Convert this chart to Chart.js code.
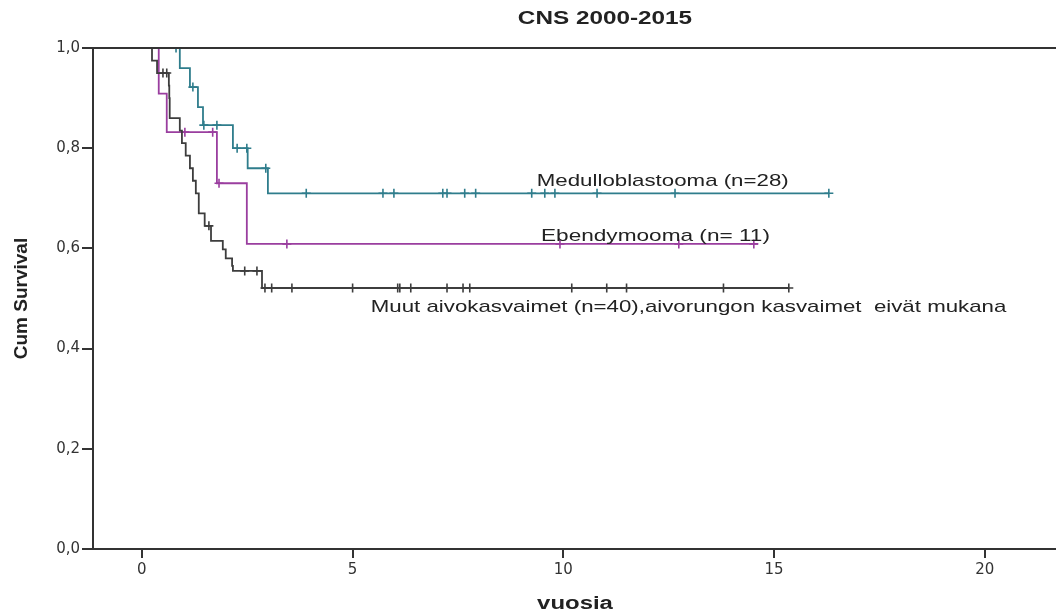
<!DOCTYPE html>
<html>
<head>
<meta charset="utf-8">
<title>CNS 2000-2015</title>
<script src="https://cdn.jsdelivr.net/npm/chart.js@4"></script>
<style>
  html, body { margin: 0; padding: 0; background: #fff; }
  #wrap { width: 1056px; height: 616px; }
</style>
</head>
<body>
<div id="wrap"><canvas id="kmChart"></canvas></div>
<script>
// ---------- Data (years, cumulative survival) ----------
const xTicks = [0, 5, 10, 15, 20];

const medulloTimes = [0, 0.90, 1.14, 1.33, 1.45, 2.16, 2.51, 2.99, 16.3];
const medulloSurv = [1, 0.96, 0.922, 0.882, 0.846, 0.80, 0.76, 0.71, 0.71];
const medulloCensored = [0.81, 1.21, 1.47, 1.78, 2.26, 2.49, 2.94, 3.9, 5.72, 5.98, 7.14, 7.24, 7.66, 7.92, 9.25, 9.56, 9.8, 10.8, 12.65, 16.3];

const ependTimes = [0, 0.40, 0.59, 1.78, 2.49, 14.62];
const ependSurv = [1, 0.909, 0.832, 0.73, 0.609, 0.609];
const ependCensored = [1.02, 1.68, 1.83, 3.44, 9.92, 12.74, 14.52];

const muutTimes = [0, 0.24, 0.36, 0.64, 0.65, 0.66, 0.90, 0.95, 1.04, 1.14, 1.21, 1.28, 1.35, 1.49, 1.64, 1.92, 1.99, 2.14, 2.16, 2.85, 15.35];
const muutSurv = [1, 0.975, 0.95, 0.925, 0.90, 0.86, 0.835, 0.81, 0.785, 0.76, 0.735, 0.71, 0.67, 0.645, 0.615, 0.598, 0.58, 0.565, 0.555, 0.521, 0.521];
const muutCensored = [0.5, 0.59, 1.59, 2.44, 2.73, 2.92, 3.08, 3.56, 5.0, 6.07, 6.12, 6.38, 7.24, 7.62, 7.78, 10.2, 11.03, 11.5, 13.8, 15.35];

const groupLabels = [
    'Medulloblastooma (n=28)',
    'Ebendymooma (n= 11)',
    'Muut aivokasvaimet (n=40),aivorungon kasvaimet  eivät mukana'
];

// ---------- Helpers ----------
function toPoints(times, surv) {
    return times.map((t, i) => ({ x: t, y: surv[i] }));
}

// survival level of the curve at time t (used to place censor marks)
function survivalAt(times, surv, t) {
    let s = surv[0];
    for (let i = 0; i < times.length; i++) {
        if (times[i] <= t) s = surv[i];
    }
    return s;
}

function censorPoints(times, surv, cens) {
    return cens.map(t => ({ x: t, y: survivalAt(times, surv, t) }));
}

function curve(times, surv, color) {
    return {
        data: toPoints(times, surv),
        borderColor: color,
        borderWidth: 1.8,
        stepped: 'before', // horizontal first, then the drop
        pointRadius: 0,
        fill: false
    };
}

function censors(times, surv, cens, color) {
    return {
        data: censorPoints(times, surv, cens),
        showLine: false,
        borderColor: color,
        backgroundColor: color,
        borderWidth: 1.6,
        pointStyle: 'cross',
        pointRadius: 4.5
    };
}

const teal = '#2f7d8c';
const magenta = '#9a3e9f';
const dark = '#3d3d3d';

// stretched text, the original picture is wider than tall
function wideText(ctx, text, x, y, font, sx, align) {
    ctx.save();
    ctx.font = font;
    ctx.textBaseline = 'middle';
    ctx.fillStyle = '#222';
    const w = ctx.measureText(text).width * sx;
    let left = x;
    if (align === 'center') left = x - w / 2;
    ctx.translate(left, y);
    ctx.scale(sx, 1);
    ctx.textAlign = 'left';
    ctx.fillText(text, 0, 0);
    ctx.restore();
}

// ---------- Texts + frame lines ----------
const extras = {
    id: 'extras',
    afterDraw(chart) {
        const ctx = chart.ctx;
        const area = chart.chartArea;
        const xs = chart.scales.x;
        const ys = chart.scales.y;

        // top frame line and the x axis up to the right edge
        ctx.save();
        ctx.strokeStyle = '#333';
        ctx.lineWidth = 2;
        ctx.beginPath();
        ctx.moveTo(area.left, area.top);
        ctx.lineTo(chart.width, area.top);
        ctx.moveTo(area.right - 1, area.bottom);
        ctx.lineTo(chart.width, area.bottom);
        ctx.stroke();
        ctx.restore();

        wideText(ctx, 'CNS 2000-2015', 605, 19, 'bold 18px "Liberation Sans", Arial, sans-serif', 1.35, 'center');
        wideText(ctx, 'vuosia', 575, 604, 'bold 18px "Liberation Sans", Arial, sans-serif', 1.33, 'center');

        // y title
        ctx.save();
        ctx.translate(22, (area.top + area.bottom) / 2);
        ctx.rotate(-Math.PI / 2);
        ctx.font = 'bold 19px "Liberation Sans", Arial, sans-serif';
        ctx.fillStyle = '#222';
        ctx.textAlign = 'center';
        ctx.textBaseline = 'middle';
        ctx.fillText('Cum Survival', 0, 0);
        ctx.restore();

        // curve labels
        const f = '17px "Liberation Sans", Arial, sans-serif';
        wideText(ctx, groupLabels[0], xs.getPixelForValue(9.37), ys.getPixelForValue(0.734), f, 1.31, 'left');
        wideText(ctx, groupLabels[1], xs.getPixelForValue(9.47), ys.getPixelForValue(0.625), f, 1.33, 'left');
        wideText(ctx, groupLabels[2], xs.getPixelForValue(5.43), ys.getPixelForValue(0.483), f, 1.31, 'left');
    }
};

// ---------- Chart ----------
const ctx = document.getElementById('kmChart').getContext('2d');
new Chart(ctx, {
    type: 'line',
    data: {
        datasets: [
            curve(muutTimes, muutSurv, dark),
            curve(ependTimes, ependSurv, magenta),
            curve(medulloTimes, medulloSurv, teal),
            censors(muutTimes, muutSurv, muutCensored, dark),
            censors(ependTimes, ependSurv, ependCensored, magenta),
            censors(medulloTimes, medulloSurv, medulloCensored, teal)
        ]
    },
    options: {
        responsive: true,
        maintainAspectRatio: false,
        animation: false,
        layout: { autoPadding: false, padding: { top: 48, right: 0, left: 0, bottom: 0 } },
        plugins: {
            legend: { display: false },
            tooltip: { enabled: false },
            title: { display: false }
        },
        scales: {
            x: {
                type: 'linear',
                min: -1.16,
                max: 21.69,
                afterBuildTicks: s => { s.ticks = xTicks.map(v => ({ value: v })); },
                afterFit: s => { s.height = 67; },
                grid: { drawOnChartArea: false, tickLength: 9, color: '#333', lineWidth: 2 },
                border: { display: true, color: '#333', width: 2 },
                ticks: {
                    padding: 3,
                    color: '#333',
                    font: { family: 'DejaVu Sans', size: 15 },
                    callback: v => String(v)
                }
            },
            y: {
                min: 0,
                max: 1,
                afterFit: s => { s.width = 93; },
                grid: { drawOnChartArea: false, tickLength: 11, color: '#333', lineWidth: 2 },
                border: { display: true, color: '#333', width: 2 },
                ticks: {
                    stepSize: 0.2,
                    padding: 2,
                    color: '#333',
                    font: { family: 'DejaVu Sans', size: 15 },
                    callback: v => v.toFixed(1).replace('.', ',')
                }
            }
        }
    },
    plugins: [extras]
});
</script>
</body>
</html>
